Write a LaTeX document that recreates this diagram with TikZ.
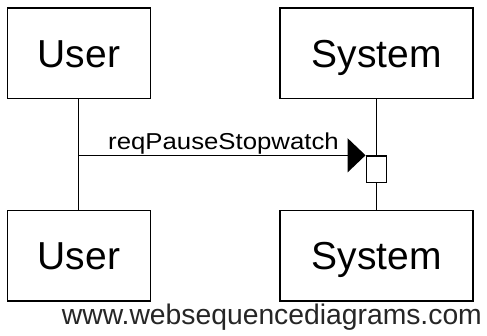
\documentclass[tikz,border=0pt]{standalone}
\usepackage{fontspec}
\setmainfont{Liberation Sans}
\usetikzlibrary{arrows.meta}
\begin{document}
\begin{tikzpicture}[x=1pt,y=-1pt,
  actor/.style={draw=black,line width=1.5pt,fill=white,inner sep=0pt,
    font=\fontsize{39}{39}\selectfont,text height=28pt,text depth=0pt},
  userbox/.style={actor,minimum width=143pt,minimum height=90.5pt},
  sysbox/.style={actor,minimum width=193pt,minimum height=90.5pt},
  life/.style={line width=1.4pt},
  msg/.style={line width=1.4pt,-{Triangle[length=18pt,width=34pt]}},
  act/.style={draw=black,line width=1.4pt,fill=white,inner sep=0pt,minimum width=20.5pt,minimum height=26.5pt}]
\useasboundingbox (0,0) rectangle (487,335);
\fill[white] (0,0) rectangle (487,335);
\node[userbox] (u1) at (79,53.25) {User};
\node[sysbox] (s1) at (376.5,53.25) {System};
\node[userbox] (u2) at (79,255.75) {User};
\node[sysbox] (s2) at (376.5,255.75) {System};
\draw[life] (u1.south) ++(-0.5,0) coordinate (ul1) -- (ul1 |- u2.north);
\draw[life] (s1.south) -- (s2.north);
\node[act] (a) at (376.5,169.25) {};
\coordinate (m0) at (ul1 |- a.north);
\draw[msg] (m0) -- (a.north west);
\node[anchor=base,inner sep=0pt,font=\fontsize{23}{23}\selectfont] (lbl) at (223.5,149.3) {\scalebox{1.12}[1]{reqPauseStopwatch}};
\node[anchor=base west,inner sep=0pt,font=\fontsize{28.3}{28.3}\selectfont,text=black!85] (wsd) at (61.7,324) {www.websequencediagrams.com};
\end{tikzpicture}
\end{document}
